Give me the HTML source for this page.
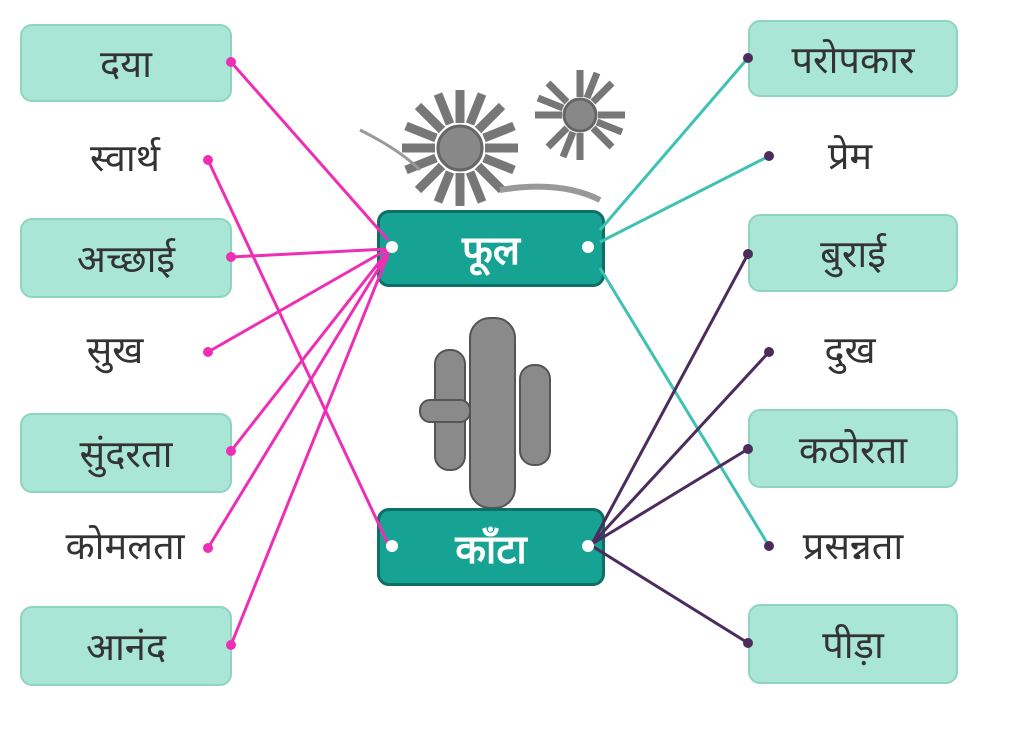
<!DOCTYPE html>
<html><head><meta charset="utf-8">
<style>
html,body{margin:0;padding:0;background:#fff;}
body{width:1024px;height:747px;position:relative;overflow:hidden;font-family:"Liberation Sans","Noto Sans CJK SC",sans-serif;}
.b{position:absolute;background:#a9e6d5;border:2px solid #8fd3c1;border-radius:12px;display:flex;align-items:center;justify-content:center;font-size:38px;color:#333;box-sizing:border-box;}
.t{position:absolute;font-size:38px;color:#333;text-align:center;line-height:1;}
.c{position:absolute;background:#17a394;border:3px solid #0d6f66;border-radius:12px;display:flex;align-items:center;justify-content:center;font-size:40px;color:#fff;box-sizing:border-box;font-weight:bold;}
svg{position:absolute;left:0;top:0;}
</style></head><body>
<svg width="1024" height="747">
<g fill="none" stroke="#666" stroke-width="3">
<g transform="translate(460,148)">
<circle r="22" fill="#888"/>
<g stroke="#777" stroke-width="9">
<line x1="0" y1="-25" x2="0" y2="-58"/><line x1="0" y1="25" x2="0" y2="58"/><line x1="-25" y1="0" x2="-58" y2="0"/><line x1="25" y1="0" x2="58" y2="0"/>
<line x1="18" y1="18" x2="42" y2="42"/><line x1="-18" y1="-18" x2="-42" y2="-42"/><line x1="18" y1="-18" x2="42" y2="-42"/><line x1="-18" y1="18" x2="-42" y2="42"/>
<line x1="10" y1="-24" x2="22" y2="-54"/><line x1="-10" y1="24" x2="-22" y2="54"/><line x1="24" y1="10" x2="54" y2="22"/><line x1="-24" y1="-10" x2="-54" y2="-22"/>
<line x1="-10" y1="-24" x2="-22" y2="-54"/><line x1="10" y1="24" x2="22" y2="54"/><line x1="24" y1="-10" x2="54" y2="-22"/><line x1="-24" y1="10" x2="-54" y2="22"/>
</g></g>
<g transform="translate(580,115)">
<circle r="16" fill="#888"/>
<g stroke="#777" stroke-width="7">
<line x1="0" y1="-18" x2="0" y2="-45"/><line x1="0" y1="18" x2="0" y2="45"/><line x1="-18" y1="0" x2="-45" y2="0"/><line x1="18" y1="0" x2="45" y2="0"/>
<line x1="13" y1="13" x2="32" y2="32"/><line x1="-13" y1="-13" x2="-32" y2="-32"/><line x1="13" y1="-13" x2="32" y2="-32"/><line x1="-13" y1="13" x2="-32" y2="32"/>
<line x1="7" y1="-17" x2="17" y2="-42"/><line x1="-7" y1="17" x2="-17" y2="42"/><line x1="17" y1="7" x2="42" y2="17"/><line x1="-17" y1="-7" x2="-42" y2="-17"/>
</g></g>
<path d="M360,130 Q400,150 420,170" stroke="#999"/><path d="M500,190 Q560,180 600,200" stroke="#999" stroke-width="6"/>
</g>
<g fill="#8a8a8a" stroke="#555" stroke-width="2">
<rect x="470" y="318" width="45" height="190" rx="20"/>
<rect x="435" y="350" width="30" height="120" rx="14"/>
<rect x="520" y="365" width="30" height="100" rx="14"/>
<rect x="420" y="400" width="50" height="22" rx="10"/>
</g>
</svg>

<div class="b" style="left:20px;top:24px;width:212px;height:78px">दया</div>
<div class="t" style="left:60px;top:140px;width:130px">स्वार्थ</div>
<div class="b" style="left:20px;top:218px;width:212px;height:80px">अच्छाई</div>
<div class="t" style="left:60px;top:332px;width:110px">सुख</div>
<div class="b" style="left:20px;top:413px;width:212px;height:80px">सुंदरता</div>
<div class="t" style="left:45px;top:528px;width:160px">कोमलता</div>
<div class="b" style="left:20px;top:606px;width:212px;height:80px">आनंद</div>

<div class="c" style="left:377px;top:210px;width:228px;height:77px">फूल</div>
<div class="c" style="left:377px;top:508px;width:228px;height:78px">काँटा</div>

<div class="b" style="left:748px;top:20px;width:210px;height:77px">परोपकार</div>
<div class="t" style="left:790px;top:138px;width:120px">प्रेम</div>
<div class="b" style="left:748px;top:214px;width:210px;height:78px">बुराई</div>
<div class="t" style="left:790px;top:332px;width:120px">दुख</div>
<div class="b" style="left:748px;top:409px;width:210px;height:79px">कठोरता</div>
<div class="t" style="left:778px;top:528px;width:150px">प्रसन्नता</div>
<div class="b" style="left:748px;top:604px;width:210px;height:80px">पीड़ा</div>

<svg width="1024" height="747">
<g stroke="#ee2fb6" stroke-width="3">
<line x1="231" y1="62" x2="388" y2="240"/>
<line x1="208" y1="160" x2="388" y2="544"/>
<line x1="231" y1="257" x2="388" y2="249"/>
<line x1="208" y1="352" x2="388" y2="249"/>
<line x1="231" y1="451" x2="388" y2="251"/>
<line x1="208" y1="548" x2="388" y2="253"/>
<line x1="231" y1="645" x2="388" y2="255"/>
</g>
<g fill="#ee2fb6"><circle cx="231" cy="62" r="5"/><circle cx="208" cy="160" r="5"/><circle cx="231" cy="257" r="5"/><circle cx="208" cy="352" r="5"/><circle cx="231" cy="451" r="5"/><circle cx="208" cy="548" r="5"/><circle cx="231" cy="645" r="5"/></g>
<g stroke="#3fc1b4" stroke-width="3">
<line x1="600" y1="230" x2="748" y2="58"/>
<line x1="600" y1="242" x2="769" y2="156"/>
<line x1="600" y1="268" x2="769" y2="546"/>
</g>
<g stroke="#4c2c5e" stroke-width="3">
<line x1="592" y1="544" x2="748" y2="254"/>
<line x1="592" y1="544" x2="769" y2="352"/>
<line x1="592" y1="544" x2="748" y2="449"/>
<line x1="592" y1="546" x2="748" y2="643"/>
</g>
<g fill="#4c2c5e"><circle cx="748" cy="58" r="5"/><circle cx="769" cy="156" r="5"/><circle cx="748" cy="254" r="5"/><circle cx="769" cy="352" r="5"/><circle cx="748" cy="449" r="5"/><circle cx="769" cy="546" r="5"/><circle cx="748" cy="643" r="5"/></g>
<g fill="#fff"><circle cx="392" cy="247" r="6"/><circle cx="588" cy="247" r="6"/><circle cx="392" cy="546" r="6"/><circle cx="588" cy="546" r="6"/></g>
</svg>
</body></html>
